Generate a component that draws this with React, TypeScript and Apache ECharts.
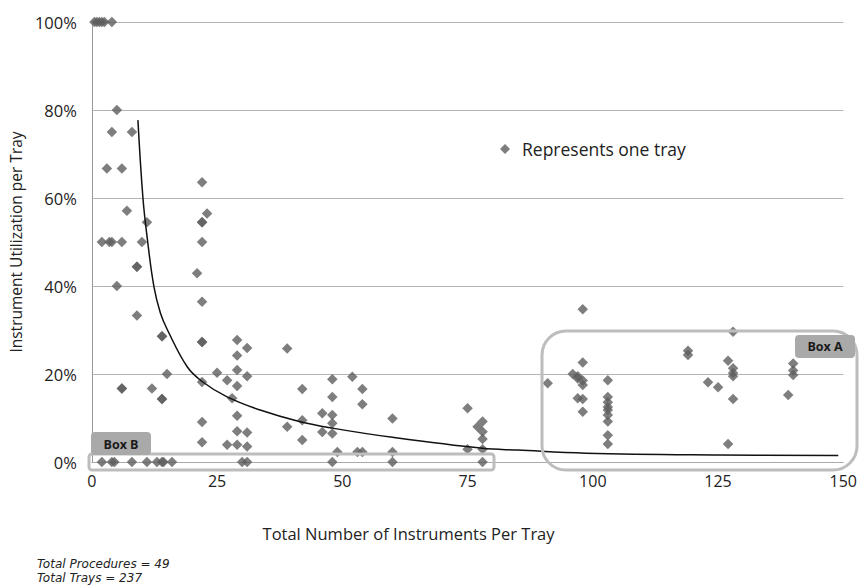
import React, { useEffect, useRef } from "react";
import * as echarts from "echarts";

// Tray points: [instruments per tray, utilization %]
const topTrays: number[][] = [
  [0.5, 100], [1, 100], [1.5, 100], [2, 100], [2.5, 100], [4, 100],
];
const leftTrays: number[][] = [
  [5, 80], [4, 75], [8, 75], [3, 66.7], [6, 66.7], [7, 57.1], [11, 54.5],
  [2, 50], [3.5, 50], [4, 50], [6, 50], [10, 50], [9, 44.4], [9, 44.4],
  [5, 40], [9, 33.3], [14, 28.6], [14, 28.6], [15, 20], [6, 16.7], [6, 16.7],
  [12, 16.7], [14, 14.3], [14, 14.3],
];
const tray22: number[][] = [
  [22, 63.6], [23, 56.5], [22, 54.5], [22, 54.5], [22, 50], [21, 42.9],
  [22, 36.4], [22, 27.3], [22, 27.3], [22, 18.2], [22, 9.1], [22, 4.5],
];
const zeroTrays: number[][] = [
  [2, 0], [4, 0], [4.5, 0], [8, 0], [11, 0], [13, 0], [14, 0], [14.3, 0], [16, 0],
  [30, 0], [31, 0], [48, 0], [60, 0], [78, 0],
];
const midTrays: number[][] = [
  [25, 20.3], [27, 18.6], [27, 3.9], [28, 14.5], [29, 27.7], [29, 24.2],
  [29, 20.9], [29, 17.3], [29, 10.5], [29, 7], [29, 3.9], [31, 25.9],
  [31, 19.5], [31, 6.7], [31, 3.5], [39, 25.8], [39, 8], [42, 16.6],
  [42, 9.5], [42, 5], [46, 11.1], [46, 6.8], [48, 18.8], [48, 14.8],
  [48, 10.7], [48, 8.8], [48, 6.5], [49, 2.3], [52, 19.4], [53, 2.3],
  [54, 2.3], [54, 16.6], [54, 13.1], [60, 9.9], [60, 2.3], [75, 12.2],
  [75, 2.9], [77, 8], [78, 9.2], [78, 6.9], [78, 5.2], [78, 2.9],
];
const rightTrays: number[][] = [
  [91, 17.9], [96, 20], [97, 19.5], [97, 19], [98, 18.5], [98, 17.5],
  [97, 14.5], [98, 14.3], [98, 11.4], [98, 22.6], [98, 34.7], [103, 18.6],
  [103, 14.8], [103, 13.6], [103, 12.5], [103, 11.8], [103, 10.7], [103, 9.2],
  [103, 6.1], [103, 4.1], [119, 25.3], [119, 24.3], [123, 18.1], [125, 17],
  [127, 23], [127, 4.1], [128, 29.6], [128, 21.3], [128, 20.2], [128, 19.5],
  [128, 14.3], [139, 15.2], [140, 22.4], [140, 20.8], [140, 19.8],
];

// Trend curve points
const trendX = [9.2, 10.2, 11.1, 12.4, 13.7, 15.1, 19, 22, 27, 33.6, 41.4, 48, 60, 78, 85, 98.6, 125, 149];
const trendY = [77.7, 60, 50.5, 39.8, 33.8, 30, 21.7, 18.3, 14.8, 11.8, 9.2, 7.7, 5.6, 3.1, 2.7, 2.0, 1.6, 1.5];

const xTicks = { min: 0, max: 150, interval: 25 };
const yTicks = { min: 0, max: 100, interval: 20 };

const legendLabel = "Represents one tray";
const xTitle = "Total Number of Instruments Per Tray";
const yTitle = "Instrument Utilization per Tray";
const notes = ["Total Procedures = 49", "Total Trays = 237"];
const boxLabels = ["Box A", "Box B"];

const FONT = "'Open Sans', 'DejaVu Sans', sans-serif";
const NOTE_FONT = "'DejaVu Sans', sans-serif";
const DOT = "#5e5e5e";

export default function App() {
  const ref = useRef<HTMLDivElement>(null);

  useEffect(() => {
    if (!ref.current) return;
    const chart = echarts.init(ref.current, undefined, { renderer: "svg" });
    const trays = [...topTrays, ...leftTrays, ...tray22, ...zeroTrays, ...midTrays, ...rightTrays];
    const trend = trendX.map((x, i) => [x, trendY[i]]);

    chart.setOption({
      animation: false,
      backgroundColor: "#ffffff",
      textStyle: { fontFamily: FONT },
      grid: { left: 91, right: 15, top: 22, bottom: 125, containLabel: false },
      legend: {
        data: [legendLabel],
        left: 495,
        top: 135,
        icon: "diamond",
        itemWidth: 10,
        itemHeight: 10,
        textStyle: { fontSize: 17.5, color: "#222", fontFamily: FONT, padding: [0, 0, 0, 7] },
      },
      xAxis: {
        type: "value",
        min: xTicks.min,
        max: xTicks.max,
        interval: xTicks.interval,
        name: xTitle,
        nameLocation: "middle",
        nameGap: 63,
        nameTextStyle: { fontSize: 16.5, color: "#222", fontFamily: FONT, padding: [0, 118, 0, 0] },
        axisLine: { show: true, lineStyle: { color: "#aaa" } },
        axisTick: { show: false },
        axisLabel: { fontSize: 16, color: "#222", margin: 11, fontFamily: FONT },
        splitLine: { show: false },
      },
      yAxis: {
        type: "value",
        min: yTicks.min,
        max: yTicks.max,
        interval: yTicks.interval,
        name: yTitle,
        nameLocation: "middle",
        nameGap: 62,
        nameTextStyle: { fontSize: 15.5, color: "#222", fontFamily: FONT },
        axisLine: { show: true, lineStyle: { color: "#999" } },
        axisTick: { show: false },
        axisLabel: { fontSize: 16.5, color: "#222", margin: 15, formatter: "{value}%", fontFamily: FONT },
        splitLine: { show: true, lineStyle: { color: "#b4b4b4", width: 1 } },
      },
      series: [
        {
          name: legendLabel,
          type: "scatter",
          symbol: "diamond",
          symbolSize: 10.5,
          itemStyle: { color: DOT },
          data: trays,
          z: 3,
        },
        {
          name: "trend",
          type: "line",
          smooth: 0.4,
          showSymbol: false,
          lineStyle: { color: "#111", width: 1.5 },
          data: trend,
          z: 4,
        },
      ],
      graphic: [
        {
          type: "rect",
          shape: { x: 542, y: 331, width: 315, height: 139, r: 24 },
          style: { fill: "none", stroke: "#bdbdbd", lineWidth: 3 },
          z: 10,
        },
        {
          type: "rect",
          shape: { x: 795, y: 335, width: 60, height: 23, r: 4 },
          style: { fill: "#a9a9a9" },
          z: 11,
        },
        {
          type: "text",
          x: 825,
          y: 346.5,
          style: {
            text: boxLabels[0],
            fill: "#1a1a1a",
            font: "bold 12.5px " + FONT,
            align: "center",
            verticalAlign: "middle",
          },
          z: 12,
        },
        {
          type: "rect",
          shape: { x: 89, y: 454, width: 405, height: 16, r: 3 },
          style: { fill: "none", stroke: "#bdbdbd", lineWidth: 3 },
          z: 10,
        },
        {
          type: "rect",
          shape: { x: 91, y: 432, width: 60, height: 23, r: 4 },
          style: { fill: "#a9a9a9" },
          z: 11,
        },
        {
          type: "text",
          x: 121,
          y: 444,
          style: {
            text: boxLabels[1],
            fill: "#1a1a1a",
            font: "bold 12.5px " + FONT,
            align: "center",
            verticalAlign: "middle",
          },
          z: 12,
        },
        {
          type: "text",
          x: 37,
          y: 564,
          style: {
            text: notes[0],
            fill: "#222",
            font: "italic 12px " + NOTE_FONT,
            verticalAlign: "middle",
            lineHeight: 12,
          },
        },
        {
          type: "text",
          x: 37,
          y: 577.5,
          style: {
            text: notes[1],
            fill: "#222",
            font: "italic 12px " + NOTE_FONT,
            verticalAlign: "middle",
            lineHeight: 12,
          },
        },
      ],
    });

    return () => chart.dispose();
  }, []);

  return (
    <div
      ref={ref}
      style={{ position: "absolute", left: 0, top: 0, width: 860, height: 587 }}
    />
  );
}
